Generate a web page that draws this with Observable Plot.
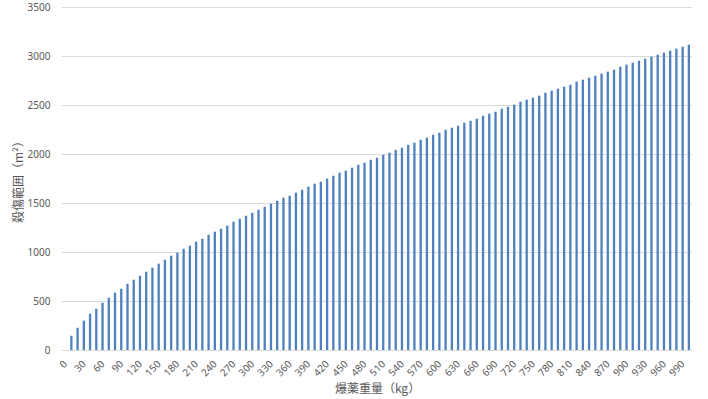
<!DOCTYPE html>
<html>
<head>
<meta charset="utf-8">
<script src="https://cdn.jsdelivr.net/npm/d3@7"></script>
<script src="https://cdn.jsdelivr.net/npm/@observablehq/plot@0.6"></script>
<style>
  body { margin: 0; background: #fff; }
  #chart { width: 708px; height: 399px; }
</style>
</head>
<body>
<div id="chart"></div>
<script>
// Explosive weight categories (kg)
const weights = [
  0, 10, 20, 30, 40, 50, 60, 70, 80, 90,
  100, 110, 120, 130, 140, 150, 160, 170, 180, 190,
  200, 210, 220, 230, 240, 250, 260, 270, 280, 290,
  300, 310, 320, 330, 340, 350, 360, 370, 380, 390,
  400, 410, 420, 430, 440, 450, 460, 470, 480, 490,
  500, 510, 520, 530, 540, 550, 560, 570, 580, 590,
  600, 610, 620, 630, 640, 650, 660, 670, 680, 690,
  700, 710, 720, 730, 740, 750, 760, 770, 780, 790,
  800, 810, 820, 830, 840, 850, 860, 870, 880, 890,
  900, 910, 920, 930, 940, 950, 960, 970, 980, 990,
  1000
];

// Lethal area (m²)
const areas = [
  0, 145, 227, 299, 370, 421, 482, 534, 585, 625,
  676, 717, 758, 799, 840, 881, 921, 962, 992, 1033,
  1064, 1105, 1135, 1176, 1207, 1237, 1268, 1309, 1339, 1370,
  1400, 1431, 1462, 1492, 1523, 1554, 1574, 1605, 1635, 1666,
  1697, 1717, 1748, 1778, 1809, 1829, 1860, 1890, 1911, 1941,
  1962, 1992, 2013, 2043, 2064, 2094, 2115, 2145, 2166, 2196,
  2217, 2247, 2268, 2288, 2319, 2339, 2360, 2390, 2411, 2431,
  2462, 2482, 2503, 2533, 2554, 2574, 2595, 2625, 2646, 2666,
  2687, 2707, 2738, 2758, 2779, 2799, 2820, 2840, 2860, 2891,
  2911, 2932, 2952, 2973, 2993, 3013, 3034, 3054, 3075, 3095,
  3115
];

// Tick labels shown on the x axis
const xTickLabels = [
  "0", "30", "60", "90", "120", "150", "180", "210", "240", "270",
  "300", "330", "360", "390", "420", "450", "480", "510", "540", "570",
  "600", "630", "660", "690", "720", "750", "780", "810", "840", "870",
  "900", "930", "960", "990"
];

const yTicks = [0, 500, 1000, 1500, 2000, 2500, 3000, 3500];

const xTitle = "爆薬重量（kg）";
const yTitle = "殺傷範囲（m²）";

const data = weights.map((w, i) => ({ w: String(w), a: areas[i] }));

const chart = Plot.plot({
  width: 708,
  height: 399,
  marginLeft: 62,
  marginRight: 16,
  marginTop: 7,
  marginBottom: 49,
  style: {
    fontFamily: "'Noto Sans', 'Noto Sans CJK JP', sans-serif",
    fontSize: "10px",
    color: "#595959",
    background: "#ffffff",
    overflow: "visible"
  },
  x: {
    type: "band",
    domain: weights.map(String),
    paddingInner: 0.63,
    paddingOuter: 0.315,
    round: false
  },
  y: { domain: [0, 3500] },
  marks: [
    Plot.gridY(yTicks, { stroke: "#d9d9d9", strokeOpacity: 1, strokeWidth: 1 }),
    Plot.barY(data, { x: "w", y: "a", fill: "#4f81bd" }),
    Plot.axisX({
      ticks: xTickLabels,
      tickSize: 0,
      tickRotate: -45,
      tickPadding: 4,
      dx: 0,
      dy: 8,
      label: null
    }),
    Plot.axisX({
      ticks: [],
      tickSize: 0,
      label: xTitle,
      labelAnchor: "center",
      labelArrow: "none",
      labelOffset: 42
    }),
    Plot.axisY({
      ticks: yTicks,
      tickSize: 0,
      tickPadding: 12,
      tickFormat: d => String(d),
      label: yTitle,
      labelAnchor: "center",
      labelArrow: "none",
      labelOffset: 48
    })
  ]
});

document.getElementById("chart").appendChild(chart);

// Larger font for the axis titles
d3.select(chart).selectAll("g[aria-label='x-axis label'] text, g[aria-label='y-axis label'] text")
  .style("font-size", "12px")
  .style("font-family", "'Noto Sans CJK JP', sans-serif")
  .attr("fill", "#595959");
</script>
</body>
</html>
